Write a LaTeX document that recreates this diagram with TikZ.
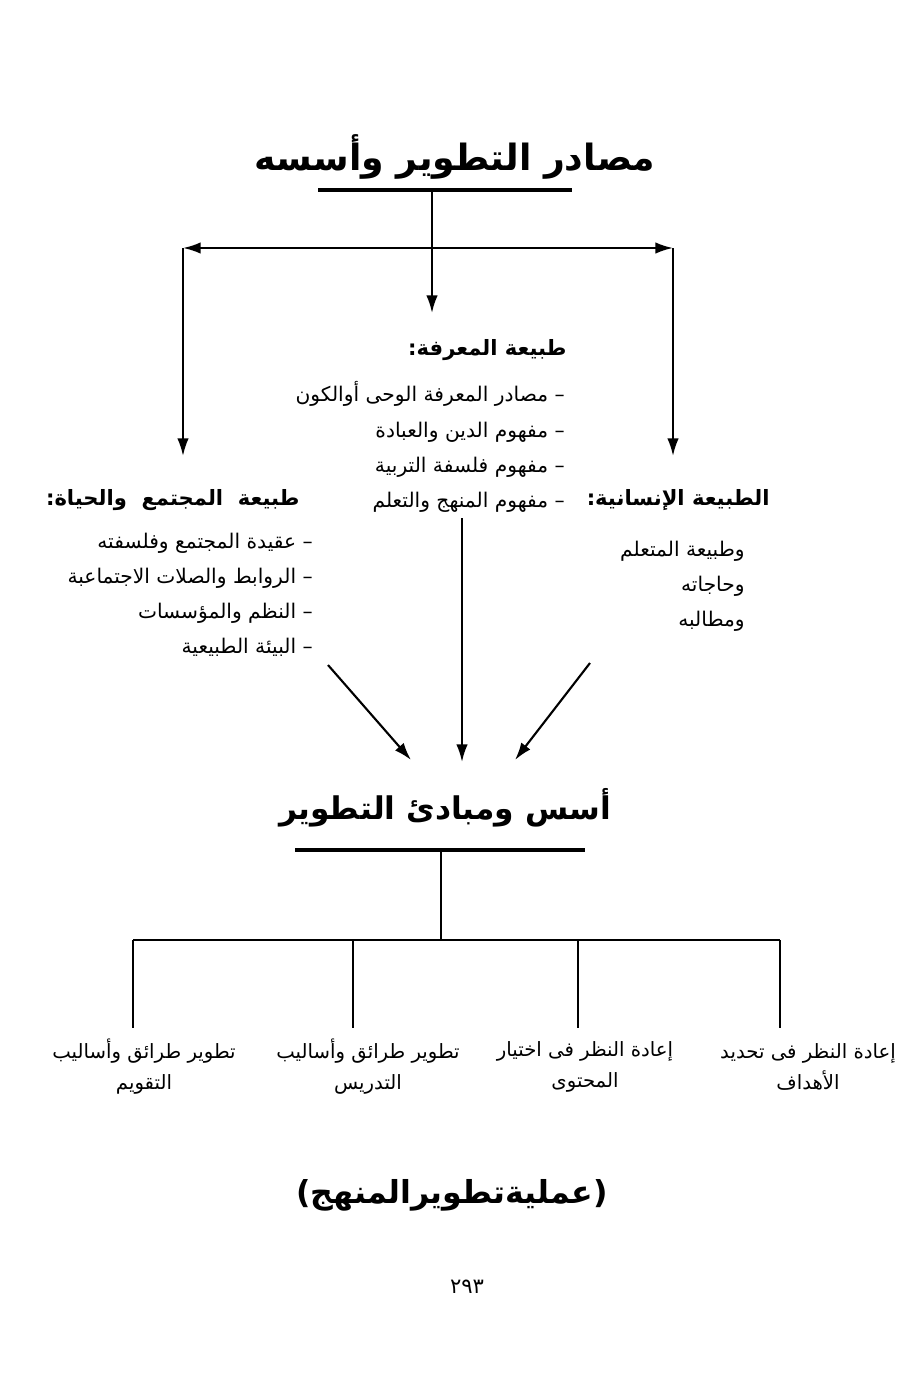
\documentclass[tikz,border=0pt]{standalone}
\usepackage{fontspec}
\usepackage{tikz}
\usetikzlibrary{arrows.meta, positioning}
\newfontfamily\arabicfont[Script=Arabic]{DejaVu Sans}
\TeXXeTstate=1
\newcommand{\artx}[1]{\beginR#1\endR}
\tikzset{
  ttl/.style={font=\arabicfont\bfseries\fontsize{20.6}{24}\selectfont, inner sep=0pt},
  hd/.style={font=\arabicfont\bfseries\fontsize{12}{15}\selectfont, inner sep=0pt},
  itm/.style={font=\arabicfont\fontsize{11.5}{20}\selectfont, align=right, inner sep=0pt},
  lbl/.style={font=\arabicfont\fontsize{11.2}{17.6}\selectfont, align=center, inner sep=0pt},
  arr/.style={-{Latex[length=10pt,width=6.5pt]}, line width=1.2pt},
  darr/.style={{Latex[length=10pt,width=6.5pt]}-{Latex[length=10pt,width=6.5pt]}, line width=1.2pt},
  ln/.style={line width=1.6pt},
  rul/.style={line width=1.8pt}
}

\begin{document}
\begin{tikzpicture}[x=0.02cm, y=-0.02cm]
  \useasboundingbox (0,0) rectangle (922,1379);

  % sources
  \node[ttl] (src) at (455,157) {\artx{مصادر التطوير وأسسه}};
  \coordinate (srcl) at (318,190);
  \coordinate (srcr) at (572,190);
  \coordinate (top)  at (432,190);
  \coordinate (knowtip) at (432,313);
  \coordinate (hl) at (183,248);
  \coordinate (hr) at (673,248);
  \coordinate (soctip) at (183,456);
  \coordinate (humtip) at (673,456);
  \draw[rul] (srcl) -- (srcr);
  \draw[arr] (top) -- (knowtip);
  \draw[darr] (hl) -- (hr);
  \draw[arr] (hl) -- (soctip);
  \draw[arr] (hr) -- (humtip);

  % knowledge
  \node[hd, anchor=east] (knowhd) at (567,350) {\artx{طبيعة المعرفة:}};
  \node[itm, anchor=east] (knowit) at (565,447)
    {\artx{– مصادر المعرفة الوحى أوالكون}\\
     \artx{– مفهوم الدين والعبادة}\\
     \artx{– مفهوم فلسفة التربية}\\
     \artx{– مفهوم المنهج والتعلم}};

  % human nature
  \node[hd, anchor=east] (humhd) at (770,500) {\artx{الطبيعة الإنسانية:}};
  \node[itm, anchor=east] (humit) at (745,586)
    {\artx{وطبيعة المتعلم}\\
     \artx{وحاجاته}\\
     \artx{ومطالبه}};

  % society
  \node[hd, anchor=east] (sochd) at (300,500) {\artx{طبيعة~ المجتمع~ والحياة:}};
  \node[itm, anchor=east] (socit) at (313,595)
    {\artx{– عقيدة المجتمع وفلسفته}\\
     \artx{– الروابط والصلات الاجتماعبة}\\
     \artx{– النظم والمؤسسات}\\
     \artx{– البيئة الطبيعية}};

  % to principles
  \coordinate (socout)  at (328,665);
  \coordinate (knowout) at (462,518);
  \coordinate (humout)  at (590,663);
  \coordinate (pa) at (411,760);
  \coordinate (pb) at (462,762);
  \coordinate (pc) at (515,760);
  \draw[arr] (socout) -- (pa);
  \draw[arr] (knowout) -- (pb);
  \draw[arr] (humout) -- (pc);

  \node[ttl, font=\arabicfont\bfseries\fontsize{17.8}{22}\selectfont] (prin) at (445,808)
    {\artx{أسس ومبادئ التطوير}};
  \coordinate (prinl) at (295,850);
  \coordinate (prinr) at (585,850);
  \coordinate (stem)  at (441,850);
  \coordinate (bar)   at (441,940);
  \coordinate (barl)  at (133,940);
  \coordinate (barr)  at (780,940);
  \draw[rul] (prinl) -- (prinr);
  \draw[ln] (stem) -- (bar);
  \draw[ln] (barl) -- (barr);
  \foreach \x in {133,353,578,780}
    \draw[ln] (\x,940) -- ++(0,88);

  % fields
  \node[lbl] (goals)   at (808,1067) {\artx{إعادة النظر فى تحديد}\\ \artx{الأهداف}};
  \node[lbl] (content) at (585,1067) {\artx{إعادة النظر فى اختيار}\\ \artx{المحتوى}};
  \node[lbl] (teach)   at (368,1067) {\artx{تطوير طرائق وأساليب}\\ \artx{التدريس}};
  \node[lbl] (eval)    at (144,1067) {\artx{تطوير طرائق وأساليب}\\ \artx{التقويم}};

  \node[font=\arabicfont\bfseries\fontsize{18}{22}\selectfont] (proc) at (452,1195)
    {\artx{(عمليةتطويرالمنهج)}};
  \node[font=\arabicfont\fontsize{12}{14}\selectfont] (page) at (467,1287) {٢٩٣};
\end{tikzpicture}
\end{document}
